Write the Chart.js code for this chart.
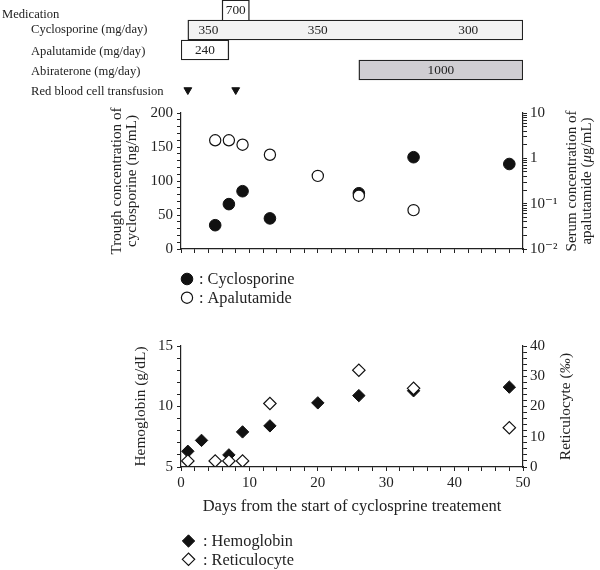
<!DOCTYPE html>
<html>
<head>
<meta charset="utf-8">
<title>Cyclosporine, apalutamide and hemoglobin</title>
<script src="https://cdn.jsdelivr.net/npm/chart.js@4.4.1/dist/chart.umd.min.js"></script>
<style>
  html, body { margin: 0; padding: 0; background: #fff; }
  body { position: relative; width: 600px; height: 570px; overflow: hidden;
         font-family: "Liberation Serif", "DejaVu Serif", serif; color: #222; }
  canvas { position: absolute; left: 0; }
  .med { position: absolute; font-size: 12.6px; line-height: 14px; white-space: nowrap; }
</style>
</head>
<body>
<canvas id="medChart" width="600" height="112" style="top:-6px"></canvas>
<canvas id="concChart" width="600" height="210" style="top:100px"></canvas>
<canvas id="hbChart" width="600" height="240" style="top:330px"></canvas>
<script>
// medication timeline (days from start of cyclosporine)
const medLabels = ['Medication', 'Cyclosporine (mg/day)', 'Apalutamide (mg/day)', 'Abiraterone (mg/day)', 'Red blood cell transfusion'];
const cycloPeriod = [1, 50];
const cycloBoost = [6, 10];
const apalPeriod = [0, 7];
const abirPeriod = [26, 50];
const cycloDoses = ['350', '700', '350', '300'];
const cycloDoseDays = [4, 8, 20, 42];
const apalDose = '240';
const abirDose = '1000';
const transfusionDays = [1, 8];

// drug levels
const cycloDays = [5, 7, 9, 13, 26, 34, 48];
const cycloTrough = [35, 66, 85, 45, 82, 135, 125];
const apalDays = [5, 7, 9, 13, 20, 26, 34];
const apalSerum = [2.5, 2.5, 2.0, 1.2, 0.41, 0.15, 0.072];
const apalTickLabels = ['10\u207B\u00B2', '10\u207B\u00B9', '1', '10'];

// blood counts
const hbDays = [1, 3, 7, 9, 13, 20, 26, 34, 48];
const hemoglobin = [6.3, 7.2, 6.0, 7.9, 8.4, 10.3, 10.9, 11.3, 11.6];
const retDays = [1, 5, 7, 9, 13, 26, 34, 48];
const reticulocyte = [2, 2, 2, 2, 21, 32, 26, 13];

const serif = '"Liberation Serif", "DejaVu Serif", serif';
Chart.defaults.font.family = serif;
Chart.defaults.color = '#222';
Chart.defaults.animation = false;

// left-hand labels of the medication block
medLabels.forEach(function(text, i) {
  const div = document.createElement('div');
  div.className = 'med';
  div.textContent = text;
  div.style.left = (i === 0 ? 2 : 31) + 'px';
  div.style.top = [7, 22, 44, 64, 84][i] + 'px';
  document.body.appendChild(div);
});

function pairs(xs, ys) {
  return xs.map(function(x, i) { return {x: x, y: ys[i]}; });
}

function onRow(row, span) {
  const d = [null, null, null, null, null];
  d[row] = span;
  return d;
}

const ink = '#222';
function tickGrid() {
  return {drawOnChartArea: false, drawTicks: true, tickLength: 4, tickColor: ink, tickWidth: 1};
}
const axisBorder = {color: ink, width: 1.2};

// dose numbers written inside the bars
const barText = {
  id: 'barText',
  afterDatasetsDraw(chart) {
    const {ctx} = chart;
    const x = chart.scales.x, y = chart.scales.y;
    const notes = cycloDoses.map(function(t, i) {
      return {text: t, day: cycloDoseDays[i], row: i === 1 ? 0 : 1};
    });
    notes.push({text: apalDose, day: (apalPeriod[0] + apalPeriod[1]) / 2, row: 2});
    notes.push({text: abirDose, day: (abirPeriod[0] + abirPeriod[1]) / 2, row: 3});
    ctx.save();
    ctx.font = '13.3px ' + serif;
    ctx.fillStyle = ink;
    ctx.textAlign = 'center';
    ctx.textBaseline = 'middle';
    notes.forEach(function(n) {
      ctx.fillText(n.text, x.getPixelForValue(n.day), y.getPixelForValue(n.row) + 1);
    });
    ctx.restore();
  }
};

// right axis titles read bottom-to-top, like the left ones
const sideTitle = {
  id: 'sideTitle',
  afterDraw(chart, args, opts) {
    if (!opts.lines) return;
    const {ctx, chartArea} = chart;
    const cy = (chartArea.top + chartArea.bottom) / 2;
    const fontOf = function(p) { return (p[1] ? 'italic ' : '') + opts.size + 'px ' + serif; };
    ctx.save();
    ctx.fillStyle = ink;
    ctx.textBaseline = 'middle';
    ctx.textAlign = 'left';
    opts.lines.forEach(function(parts, i) {
      let total = 0;
      parts.forEach(function(p) { ctx.font = fontOf(p); total += ctx.measureText(p[0]).width; });
      ctx.save();
      ctx.translate(opts.x[i], cy);
      ctx.rotate(-Math.PI / 2);
      let pos = -total / 2;
      parts.forEach(function(p) {
        ctx.font = fontOf(p);
        ctx.fillText(p[0], pos, 0);
        pos += ctx.measureText(p[0]).width;
      });
      ctx.restore();
    });
    ctx.restore();
  }
};

// symbol legend under each plot
const markLegend = {
  id: 'markLegend',
  afterDraw(chart, args, opts) {
    if (!opts.rows) return;
    const {ctx} = chart;
    ctx.save();
    chart.data.datasets.forEach(function(ds, i) {
      const y = opts.rows[i];
      ctx.fillStyle = ds.backgroundColor;
      ctx.strokeStyle = ds.borderColor;
      ctx.lineWidth = ds.borderWidth;
      Chart.helpers.drawPoint(ctx, {pointStyle: ds.pointStyle, radius: ds.pointRadius, rotation: 0, borderWidth: ds.borderWidth}, opts.x, y);
      ctx.fillStyle = ink;
      ctx.font = opts.size + 'px ' + serif;
      ctx.textAlign = 'left';
      ctx.textBaseline = 'middle';
      ctx.fillText(': ' + ds.label, opts.textX, y + 1);
    });
    ctx.restore();
  }
};

const barStyle = {borderColor: ink, borderWidth: 1.4, borderSkipped: false, barPercentage: 1, categoryPercentage: 1, grouped: false};

new Chart(document.getElementById('medChart'), {
  type: 'bar',
  data: {
    labels: ['boost', 'cyclosporine', 'apalutamide', 'abiraterone', 'transfusion'],
    datasets: [
      Object.assign({label: 'Cyclosporine 700', data: onRow(0, cycloBoost), backgroundColor: '#ffffff'}, barStyle, {borderSkipped: 'bottom'}),
      Object.assign({label: 'Cyclosporine', data: onRow(1, cycloPeriod), backgroundColor: '#f2f2f2'}, barStyle),
      Object.assign({label: 'Apalutamide', data: onRow(2, apalPeriod), backgroundColor: '#ffffff'}, barStyle),
      Object.assign({label: 'Abiraterone', data: onRow(3, abirPeriod), backgroundColor: '#d0ced2'}, barStyle),
      {
        type: 'line', label: 'Red blood cell transfusion', indexAxis: 'y',
        data: transfusionDays.map(function(d) { return {x: d, y: 'transfusion'}; }),
        showLine: false, pointStyle: 'triangle', pointRotation: 180, pointRadius: 4.5,
        pointBackgroundColor: '#111', pointBorderColor: '#111', pointBorderWidth: 1, clip: false
      }
    ]
  },
  options: {
    responsive: false,
    indexAxis: 'y',
    layout: {padding: {left: 181, right: 77, top: 6, bottom: 6}},
    scales: {
      x: {type: 'linear', min: 0, max: 50, display: false},
      y: {display: false}
    },
    plugins: {legend: {display: false}, tooltip: {enabled: false}}
  },
  plugins: [barText]
});

new Chart(document.getElementById('concChart'), {
  type: 'scatter',
  data: {
    datasets: [
      {label: 'Cyclosporine', data: pairs(cycloDays, cycloTrough), yAxisID: 'y', order: 1,
       pointStyle: 'circle', pointRadius: 5.8, backgroundColor: '#111', borderColor: '#111', borderWidth: 1},
      {label: 'Apalutamide', data: pairs(apalDays, apalSerum), yAxisID: 'y1', order: 0,
       pointStyle: 'circle', pointRadius: 5.6, backgroundColor: '#fff', borderColor: '#111', borderWidth: 1.2}
    ]
  },
  options: {
    responsive: false,
    layout: {padding: {left: 105, right: 0, top: 10, bottom: 50}},
    scales: {
      x: {type: 'linear', min: 0, max: 50, grid: tickGrid(), border: axisBorder,
          ticks: {stepSize: 2, display: false},
          afterFit: function(s) { s.height = 11; }},
      y: {type: 'linear', position: 'left', min: 0, max: 200, grid: tickGrid(), border: axisBorder,
          ticks: {stepSize: 10, autoSkip: false, padding: 4, font: {size: 15},
                  callback: function(v) { return v % 50 === 0 ? v : ''; }},
          title: {display: true, text: ['Trough concentration of', 'cyclosporine (ng/mL)'],
                  font: {size: 15.2, lineHeight: 1}, padding: {top: 4, bottom: 0}},
          afterFit: function(s) { s.width = 76; }},
      y1: {type: 'logarithmic', position: 'right', min: 0.01, max: 10, grid: tickGrid(), border: axisBorder,
           afterBuildTicks: function(s) {
             const ticks = [];
             [0.01, 0.1, 1].forEach(function(dec) {
               for (let k = 1; k < 10; k++) ticks.push({value: +(dec * k).toPrecision(3)});
             });
             ticks.push({value: 10});
             s.ticks = ticks;
           },
           ticks: {autoSkip: false, padding: 3, font: {size: 15},
                   callback: function(v) {
                     const e = Math.log10(v);
                     return Math.abs(e - Math.round(e)) < 1e-6 ? apalTickLabels[Math.round(e) + 2] : '';
                   }},
           afterFit: function(s) { s.width = 77; }}
    },
    plugins: {
      legend: {display: false}, tooltip: {enabled: false},
      sideTitle: {size: 15, x: [572, 587], lines: [[['Serum concentration of', false]], [['apalutamide (', false], ['\u03BC', true], ['g/mL)', false]]]},
      markLegend: {x: 187, textX: 199, rows: [179, 197.7], size: 16.3}
    }
  },
  plugins: [sideTitle, markLegend]
});

new Chart(document.getElementById('hbChart'), {
  type: 'scatter',
  data: {
    datasets: [
      {label: 'Hemoglobin', data: pairs(hbDays, hemoglobin), yAxisID: 'y', order: 1,
       pointStyle: 'rectRot', pointRadius: 6.2, backgroundColor: '#111', borderColor: '#111', borderWidth: 1},
      {label: 'Reticulocyte', data: pairs(retDays, reticulocyte), yAxisID: 'y1', order: 0,
       pointStyle: 'rectRot', pointRadius: 6.2, backgroundColor: '#fff', borderColor: '#111', borderWidth: 1.2}
    ]
  },
  options: {
    responsive: false,
    layout: {padding: {left: 125, right: 0, top: 16, bottom: 50}},
    scales: {
      x: {type: 'linear', min: 0, max: 50, grid: tickGrid(), border: axisBorder,
          ticks: {stepSize: 2, autoSkip: false, maxRotation: 0, padding: 3, font: {size: 15},
                  callback: function(v) { return v % 10 === 0 ? v : ''; }},
          title: {display: true, text: 'Days from the start of cyclosprine treatement',
                  font: {size: 16.5, lineHeight: 1.2}, padding: {top: 0, bottom: 3}},
          afterFit: function(s) { s.height = 53; }},
      y: {type: 'linear', position: 'left', min: 5, max: 15, grid: tickGrid(), border: axisBorder,
          ticks: {stepSize: 1, autoSkip: false, padding: 4, font: {size: 15},
                  callback: function(v) { return v % 5 === 0 ? v : ''; }},
          title: {display: true, text: 'Hemoglobin (g/dL)', font: {size: 15.4, lineHeight: 1.2}, padding: {top: 7, bottom: 0}},
          afterFit: function(s) { s.width = 56; }},
      y1: {type: 'linear', position: 'right', min: 0, max: 40, grid: tickGrid(), border: axisBorder,
           ticks: {stepSize: 2, autoSkip: false, padding: 3, font: {size: 15},
                   callback: function(v) { return v % 10 === 0 ? v : ''; }},
           afterFit: function(s) { s.width = 77; }}
    },
    plugins: {
      legend: {display: false}, tooltip: {enabled: false},
      sideTitle: {size: 15.4, x: [566], lines: [[['Reticulocyte (', false], ['\u2030', true], [')', false]]]},
      markLegend: {x: 188.5, textX: 203, rows: [211, 229.3], size: 16.3}
    }
  },
  plugins: [sideTitle, markLegend]
});
</script>
</body>
</html>
